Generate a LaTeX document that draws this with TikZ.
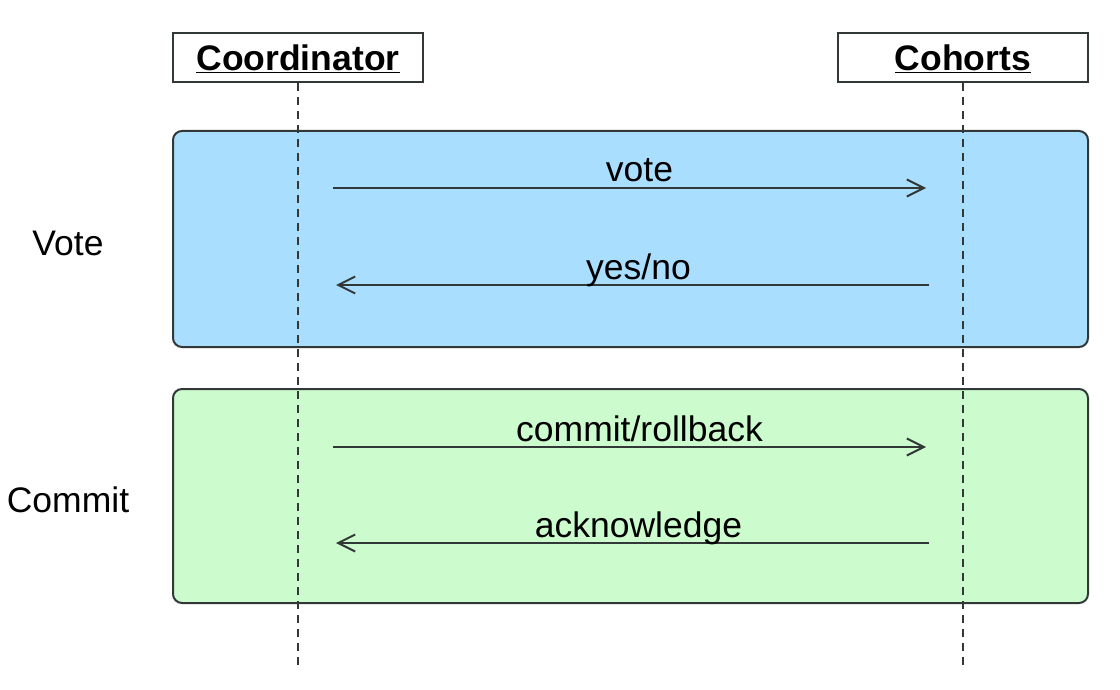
\documentclass[tikz,border=0pt]{standalone}
\usepackage{fontspec}
\setmainfont{Liberation Sans}
\usetikzlibrary{arrows.meta}
\definecolor{voteblue}{RGB}{170,222,255}
\definecolor{commitgreen}{RGB}{204,252,205}
\definecolor{edge}{RGB}{50,55,55}
\begin{document}
\begin{tikzpicture}[x=1pt,y=-1pt,
  txt/.style={font=\fontsize{35.5}{42}\selectfont, text=black, inner sep=0pt},
  actor/.style={draw=edge, line width=2pt, fill=white, minimum width=250pt, minimum height=49pt, inner sep=0pt, text height=27pt, text depth=1pt, font=\fontsize{35.5}{42}\selectfont\bfseries},
  phase/.style={draw=edge, line width=2pt, rounded corners=9pt},
  life/.style={draw=edge, line width=1.7pt, dash pattern=on 8pt off 6pt},
  msg/.style={draw=edge, line width=2pt, -{Straight Barb[length=17pt,width=17pt,line width=2pt]}},
  lbl/.style={txt, anchor=base, yshift=6pt}]
\useasboundingbox[fill=white] (0,0) rectangle (1120,690);
% phase boxes
\draw[phase, fill=voteblue] (173,131) rectangle (1088,347);
\draw[phase, fill=commitgreen] (173,389) rectangle (1088,603);
% actors
\node[actor] (coord) at (298,57.5) {\underline{Coordinator}};
\node[actor] (coh) at (963,57.5) {\underline{Cohorts}};
\coordinate (coordend) at (298,668);
\coordinate (cohend) at (963,668);
\draw[life] (coord.south) -- (coordend);
\draw[life] (coh.south) -- (cohend);
% phase labels
\node[txt, anchor=base] (votelbl) at (68,255) {Vote};
\node[txt, anchor=base] (commitlbl) at (68,512) {Commit};
% messages
\coordinate (v1) at (333,188); \coordinate (v2) at (926,188);
\coordinate (y1) at (929,285); \coordinate (y2) at (336,285);
\coordinate (c1) at (333,447); \coordinate (c2) at (926,447);
\coordinate (k1) at (929,543); \coordinate (k2) at (336,543);
\draw[msg] (v1) -- node[lbl, xshift=10pt] (votemsg) {vote} (v2);
\draw[msg] (y1) -- node[lbl, xshift=6pt] (yesmsg) {yes/no} (y2);
\draw[msg] (c1) -- node[lbl, xshift=10pt] (commitmsg) {commit/rollback} (c2);
\draw[msg] (k1) -- node[lbl, xshift=6pt] (ackmsg) {acknowledge} (k2);
\end{tikzpicture}
\end{document}
